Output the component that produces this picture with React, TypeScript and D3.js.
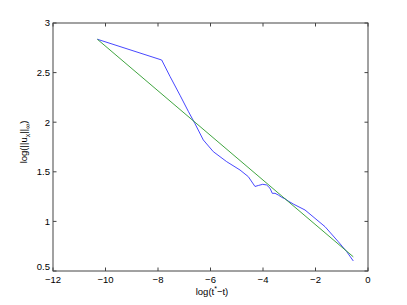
import React, { useEffect, useRef } from "react";
import * as d3 from "d3";

// log(t*-t) values and log(||u_x||_inf)
const blueX = [-10.31, -7.859, -7.543, -7.162, -6.846, -6.59, -6.274, -5.893, -5.383, -4.876, -4.56, -4.305, -4.179, -4.011, -3.859, -3.733, -3.646, -3.543, -3.417, -3.288, -3.162, -3.036, -2.846, -2.4, -1.638, -1.131, -0.811, -0.56];
const blueY = [2.836, 2.627, 2.462, 2.272, 2.11, 1.985, 1.821, 1.703, 1.602, 1.518, 1.451, 1.352, 1.362, 1.374, 1.367, 1.334, 1.283, 1.283, 1.266, 1.243, 1.228, 1.205, 1.175, 1.115, 0.947, 0.795, 0.695, 0.601];
const greenX = [-10.31, -0.56];
const greenY = [2.836, 0.643];
const xTicks = [-12, -10, -8, -6, -4, -2, 0];
const yTicks = [0.5, 1, 1.5, 2, 2.5, 3];

const W = 407;
const H = 305;

const App = () => {
  const ref = useRef<SVGSVGElement>(null);

  useEffect(() => {
    const svg = d3.select(ref.current);
    svg.selectAll("*").remove();

    const left = 53, right = 368, top = 23, bottom = 271;
    const x = d3.scaleLinear().domain([-12, 0]).range([left, right]);
    const y = d3.scaleLinear().domain([0.5, 3]).range([bottom, top]);
    const font = "Liberation Sans, Arial, sans-serif";
    const axisColor = "#444";

    const line = d3.line<[number, number]>().x(d => x(d[0])).y(d => y(d[1]));
    svg.append("path")
      .attr("d", line(blueX.map((v, i) => [v, blueY[i]] as [number, number])))
      .attr("fill", "none")
      .attr("stroke", "#3333ff")
      .attr("stroke-width", 0.9);
    svg.append("path")
      .attr("d", line(greenX.map((v, i) => [v, greenY[i]] as [number, number])))
      .attr("fill", "none")
      .attr("stroke", "#2a9a2a")
      .attr("stroke-width", 0.9);

    // box
    svg.append("rect")
      .attr("x", left).attr("y", top)
      .attr("width", right - left).attr("height", bottom - top)
      .attr("fill", "none")
      .attr("stroke", axisColor)
      .attr("stroke-width", 1);

    const tl = 3.5;
    const g = svg.append("g").attr("stroke", axisColor).attr("stroke-width", 1);
    xTicks.forEach(t => {
      g.append("line").attr("x1", x(t)).attr("x2", x(t)).attr("y1", bottom).attr("y2", bottom - tl);
      g.append("line").attr("x1", x(t)).attr("x2", x(t)).attr("y1", top).attr("y2", top + tl);
    });
    yTicks.forEach(t => {
      g.append("line").attr("x1", left).attr("x2", left + tl).attr("y1", y(t)).attr("y2", y(t));
      g.append("line").attr("x1", right).attr("x2", right - tl).attr("y1", y(t)).attr("y2", y(t));
    });

    svg.selectAll(".xt").data(xTicks).enter().append("text")
      .attr("x", d => x(d)).attr("y", 283)
      .attr("text-anchor", "middle")
      .attr("font-family", font).attr("font-size", 9.5)
      .text(d => (d < 0 ? "\u2212" + Math.abs(d) : String(d)));

    svg.selectAll(".yt").data(yTicks).enter().append("text")
      .attr("x", 50).attr("y", d => y(d) + 3.3 - (d === 0.5 ? 4 : 0))
      .attr("text-anchor", "end")
      .attr("font-family", font).attr("font-size", 9.5)
      .text(d => String(d));

    const xl = svg.append("text")
      .attr("x", 212).attr("y", 295)
      .attr("text-anchor", "middle")
      .attr("font-family", font).attr("font-size", 9.5);
    xl.append("tspan").text("log(t");
    xl.append("tspan").attr("dy", -4).attr("font-size", 7).text("*");
    xl.append("tspan").attr("dy", 4).text("\u2212t)");

    const yl = svg.append("text")
      .attr("transform", `translate(27,142) rotate(-90)`)
      .attr("text-anchor", "middle")
      .attr("font-family", font).attr("font-size", 9.5);
    yl.append("tspan").text("log(||u");
    yl.append("tspan").attr("dy", 3).attr("font-size", 7).text("x");
    yl.append("tspan").attr("dy", -3).text("||");
    yl.append("tspan").attr("dy", 3).attr("font-size", 7).text("\u221E");
    yl.append("tspan").attr("dy", -3).text(")");
  }, []);

  return (
    <div>
      <svg ref={ref} width={W} height={H}
        style={{ position: "absolute", left: 0, top: 0, background: "white" }} />
    </div>
  );
};

export default App;
